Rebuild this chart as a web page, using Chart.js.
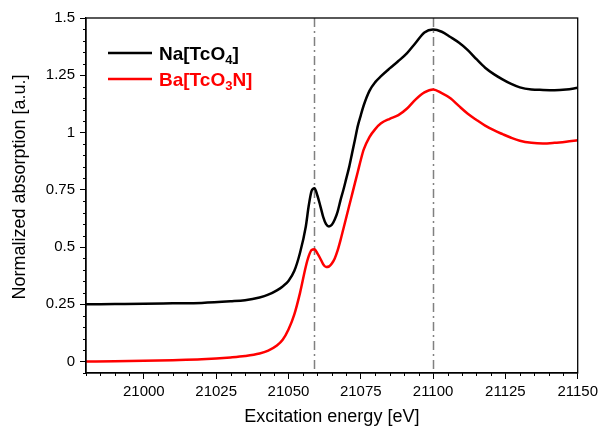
<!DOCTYPE html>
<html>
<head>
<meta charset="utf-8">
<script src="https://cdn.jsdelivr.net/npm/chart.js@4/dist/chart.umd.min.js"></script>
<style>
html,body{margin:0;padding:0;background:#fff;}
#wrap{width:602px;height:429px;position:relative;}
</style>
</head>
<body>
<div id="wrap"><canvas id="c" width="602" height="429"></canvas></div>
<script>
// ---- data ----
const energy = [20980,20990,21000,21010,21020,21030,21035,21040,21043,21046,21048,21050,21052,21054,21056,21057,21058,21059,21060,21061,21062,21063,21064,21065,21066,21067,21068,21069,21070,21071,21072,21073,21074,21075,21076,21078,21080,21082,21085,21088,21091,21094,21097,21100,21103,21106,21109,21112,21115,21118,21121,21124,21127,21130,21134,21138,21142,21146,21150];
const naTcO4 = [0.250,0.251,0.252,0.254,0.256,0.263,0.268,0.280,0.292,0.311,0.328,0.352,0.395,0.475,0.590,0.680,0.745,0.757,0.725,0.680,0.632,0.600,0.590,0.597,0.620,0.655,0.705,0.750,0.800,0.850,0.910,0.970,1.030,1.075,1.118,1.182,1.220,1.246,1.280,1.312,1.347,1.392,1.437,1.450,1.440,1.417,1.392,1.360,1.320,1.283,1.255,1.232,1.212,1.197,1.188,1.186,1.185,1.188,1.195];
const baTcO3N = [0.000,0.001,0.003,0.006,0.010,0.018,0.024,0.035,0.048,0.070,0.095,0.140,0.205,0.300,0.415,0.460,0.487,0.490,0.472,0.450,0.425,0.413,0.415,0.428,0.450,0.485,0.530,0.580,0.630,0.680,0.730,0.780,0.830,0.880,0.925,0.980,1.015,1.040,1.060,1.076,1.105,1.145,1.175,1.188,1.172,1.150,1.115,1.082,1.055,1.030,1.010,0.993,0.977,0.964,0.955,0.952,0.955,0.960,0.966];
const xTicks = [21000,21025,21050,21075,21100,21125,21150];
const yTicks = [0,0.25,0.5,0.75,1,1.25,1.5];
const markerLines = [21059,21100];
const seriesNames = ['Na[TcO₄]','Ba[TcO₃N]'];

const FONT = '"Liberation Sans", Arial, sans-serif';

const toPts = (ys) => energy.map((x,i)=>({x:x,y:ys[i]}));

const decorPlugin = {
  id:'decor',
  beforeDatasetsDraw(chart){
    const {ctx, chartArea:a, scales:{x}} = chart;
    ctx.save();
    ctx.strokeStyle = 'rgb(128,128,128)';
    ctx.lineWidth = 1.5;
    ctx.setLineDash([9,4,2,4]);
    markerLines.forEach(v=>{
      const px = Math.round(x.getPixelForValue(v))+0.5;
      ctx.beginPath(); ctx.moveTo(px,a.top); ctx.lineTo(px,a.bottom); ctx.stroke();
    });
    ctx.restore();
  },
  afterDraw(chart){
    const {ctx, chartArea:a, scales:{x,y}} = chart;
    ctx.save();
    // frame
    ctx.strokeStyle='#000'; ctx.lineWidth=1.3;
    ctx.strokeRect(a.left, a.top, a.right-a.left, a.bottom-a.top);
    // minor ticks
    ctx.lineWidth=1;
    ctx.beginPath();
    for(let v=x.min; v<=x.max+0.001; v+=5){
      if (xTicks.includes(v)) continue;
      const px = Math.round(x.getPixelForValue(v))+0.5;
      ctx.moveTo(px,a.bottom); ctx.lineTo(px,a.bottom+3);
    }
    for(let k=-1; k<=30; k++){
      const v = k*0.05;
      if (v < y.min-1e-9 || v > y.max+1e-9) continue;
      if (k%5===0) continue;
      const py = Math.round(y.getPixelForValue(v))+0.5;
      ctx.moveTo(a.left,py); ctx.lineTo(a.left-3,py);
    }
    ctx.stroke();
    // axis titles
    ctx.fillStyle='#000';
    ctx.font = '18px '+FONT;
    ctx.textAlign='center'; ctx.textBaseline='middle';
    ctx.fillText('Excitation energy [eV]', (a.left+a.right)/2, 417);
    ctx.save();
    ctx.translate(20, 187);
    ctx.rotate(-Math.PI/2);
    ctx.fillText('Normalized absorption [a.u.]', 0, 0);
    ctx.restore();
    // legend
    const items = [
      {color:'#000000', y:53, parts:[['Na[TcO',0],['4',1],[']',0]]},
      {color:'#ff0000', y:79, parts:[['Ba[TcO',0],['3',1],['N]',0]]}
    ];
    items.forEach(it=>{
      ctx.strokeStyle=it.color; ctx.lineWidth=2.5; ctx.setLineDash([]);
      ctx.beginPath(); ctx.moveTo(108,it.y); ctx.lineTo(152,it.y); ctx.stroke();
      ctx.fillStyle=it.color;
      ctx.textAlign='left'; ctx.textBaseline='alphabetic';
      let cx = 159;
      it.parts.forEach(([t,sub])=>{
        ctx.font = 'bold '+(sub?13:19)+'px '+FONT;
        ctx.fillText(t, cx, it.y+7+(sub?4:0));
        cx += ctx.measureText(t).width;
      });
    });
    ctx.restore();
  }
};

new Chart(document.getElementById('c'), {
  type:'line',
  data:{
    datasets:[
      {label:seriesNames[0], data:toPts(naTcO4), borderColor:'#000000', borderWidth:2.5, pointRadius:0, cubicInterpolationMode:'monotone', fill:false},
      {label:seriesNames[1], data:toPts(baTcO3N), borderColor:'#ff0000', borderWidth:2.5, pointRadius:0, cubicInterpolationMode:'monotone', fill:false}
    ]
  },
  options:{
    responsive:false,
    animation:false,
    devicePixelRatio:1,
    layout:{padding:{top:18,right:22,left:0,bottom:0}},
    plugins:{legend:{display:false}, tooltip:{enabled:false}},
    scales:{
      x:{
        type:'linear', min:20980, max:21150,
        afterBuildTicks:(s)=>{ s.ticks = xTicks.map(v=>({value:v})); },
        afterFit:(s)=>{ s.height = 56; },
        grid:{display:true, drawOnChartArea:false, drawTicks:true, tickLength:6, color:'#000', lineWidth:1},
        border:{display:true, color:'#000', width:1.3},
        ticks:{color:'#000', font:{family:FONT, size:15}, padding:4, maxRotation:0, autoSkip:false, callback:(v)=>String(v)}
      },
      y:{
        type:'linear', min:-0.05, max:1.5,
        afterBuildTicks:(s)=>{ s.ticks = yTicks.map(v=>({value:v})); },
        afterFit:(s)=>{ s.width = 86; },
        grid:{display:true, drawOnChartArea:false, drawTicks:true, tickLength:6, color:'#000', lineWidth:1},
        border:{display:true, color:'#000', width:1.3},
        ticks:{color:'#000', font:{family:FONT, size:15}, padding:5, autoSkip:false, callback:(v)=>String(v)}
      }
    }
  },
  plugins:[decorPlugin]
});
</script>
</body>
</html>
